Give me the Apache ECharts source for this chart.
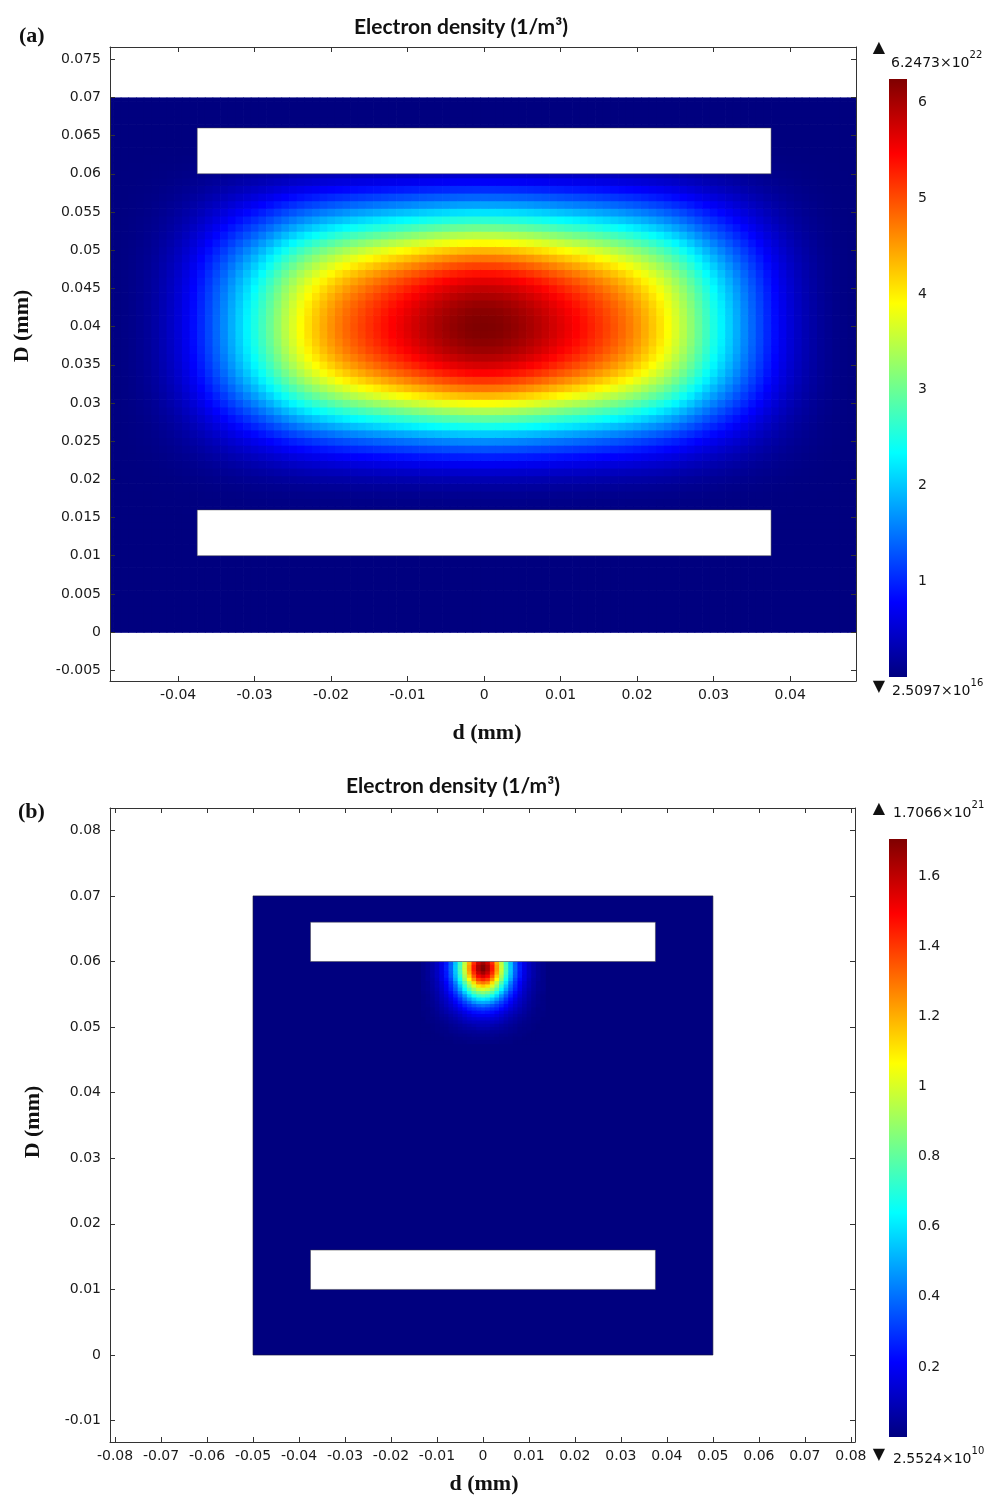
<!DOCTYPE html>
<html><head><meta charset="utf-8">
<script src="https://cdn.jsdelivr.net/npm/echarts@6/dist/echarts.min.js"></script>
<style>html,body{margin:0;padding:0;background:#fff}#c{width:990px;height:1497px}</style>
</head><body><div id="c"></div>
<script>
// ================= DATA =================
const titleText = 'Electron density (1/m³)';
const panelLabels = ['(a)', '(b)'];
const axisNames = ['d (mm)', 'D (mm)'];

const xTicksA = [-0.04, -0.03, -0.02, -0.01, 0, 0.01, 0.02, 0.03, 0.04];
const yTicksA = [-0.005, 0, 0.005, 0.01, 0.015, 0.02, 0.025, 0.03, 0.035, 0.04, 0.045, 0.05, 0.055, 0.06, 0.065, 0.07, 0.075];
const xTicksB = [-0.08, -0.07, -0.06, -0.05, -0.04, -0.03, -0.02, -0.01, 0, 0.01, 0.02, 0.03, 0.04, 0.05, 0.06, 0.07, 0.08];
const yTicksB = [-0.01, 0, 0.01, 0.02, 0.03, 0.04, 0.05, 0.06, 0.07, 0.08];

// colour bars (values in units of 1e22 for (a), 1e21 for (b))
const cbTicksA = [1, 2, 3, 4, 5, 6];
const cbTicksB = [0.2, 0.4, 0.6, 0.8, 1, 1.2, 1.4, 1.6];
const cbMaxA = 6.2473, cbMaxB = 1.7066;
const cbEndLabelsA = [['6.2473×10', '22'], ['2.5097×10', '16']];
const cbEndLabelsB = [['1.7066×10', '21'], ['2.5524×10', '10']];

// geometry (mm): simulation domain and two electrodes [x0, x1, y0, y1]
const domain = [-0.05, 0.05, 0, 0.07];
const electrodes = [[-0.0375, 0.0375, 0.06, 0.066], [-0.0375, 0.0375, 0.01, 0.016]];

// (a) density read along D = 0.04 for d = -0.05 .. 0.05 (step 0.001), 1e22 m^-3
const xLineA = [
  0.00, 0.01, 0.02, 0.04, 0.07, 0.11, 0.16, 0.23, 0.32, 0.42, 0.54, 0.68, 0.84, 1.02, 1.22, 1.42, 1.63, 1.85, 2.07, 2.29,
  2.51, 2.74, 2.98, 3.23, 3.47, 3.69, 3.90, 4.09, 4.26, 4.42, 4.57, 4.71, 4.84, 4.96, 5.07, 5.18, 5.28, 5.38, 5.48, 5.57,
  5.66, 5.75, 5.84, 5.92, 6.00, 6.07, 6.13, 6.18, 6.22, 6.24,
  6.2473,
  6.24, 6.22, 6.18, 6.13, 6.07, 6.00, 5.92, 5.84, 5.75, 5.66, 5.57, 5.48, 5.38, 5.28, 5.18, 5.07, 4.96, 4.84, 4.71, 4.57,
  4.42, 4.26, 4.09, 3.90, 3.69, 3.47, 3.23, 2.98, 2.74, 2.51, 2.29, 2.07, 1.85, 1.63, 1.42, 1.22, 1.02, 0.84, 0.68, 0.54,
  0.42, 0.32, 0.23, 0.16, 0.11, 0.07, 0.04, 0.02, 0.01, 0.00
];
// (a) density read along d = 0 for D = 0 .. 0.07 (step 0.001), 1e22 m^-3
const yLineA = [
  0, 0, 0, 0, 0, 0, 0, 0, 0, 0, 0, 0, 0, 0, 0.01, 0.02, 0.03, 0.06, 0.11, 0.19,
  0.31, 0.48, 0.70, 0.96, 1.27, 1.62, 2.02, 2.46, 2.92, 3.40, 3.88, 4.34, 4.76, 5.14, 5.46, 5.72, 5.92, 6.07, 6.17, 6.23,
  6.2473, 6.23, 6.18, 6.10, 5.98, 5.83, 5.63, 5.38, 5.08, 4.74, 4.36, 3.93, 3.48, 3.03, 2.60, 2.18, 1.78, 1.40, 1.05, 0.75,
  0.50, 0.30, 0.16, 0.08, 0.03, 0.01, 0, 0, 0, 0, 0
];

// (b) density patch below the upper electrode, 1e21 m^-3
// columns d = -0.013 .. 0.013 (step 0.001); rows D = 0.05975 down to 0.04775 (step 0.0005)
const blobRowsB = [
  [0.02,0.04,0.07,0.11,0.17,0.25,0.37,0.54,0.74,0.96,1.20,1.42,1.58,1.65,1.58,1.42,1.20,0.96,0.74,0.54,0.37,0.25,0.17,0.11,0.07,0.04,0.02],
  [0.02,0.04,0.07,0.11,0.17,0.26,0.38,0.55,0.76,0.98,1.23,1.46,1.63,1.70,1.63,1.46,1.23,0.98,0.76,0.55,0.38,0.26,0.17,0.11,0.07,0.04,0.02],
  [0.02,0.04,0.07,0.11,0.17,0.26,0.38,0.55,0.76,0.98,1.23,1.46,1.63,1.7066,1.63,1.46,1.23,0.98,0.76,0.55,0.38,0.26,0.17,0.11,0.07,0.04,0.02],
  [0.02,0.04,0.07,0.11,0.17,0.25,0.37,0.54,0.74,0.96,1.20,1.42,1.58,1.65,1.58,1.42,1.20,0.96,0.74,0.54,0.37,0.25,0.17,0.11,0.07,0.04,0.02],
  [0.02,0.04,0.07,0.11,0.16,0.25,0.36,0.52,0.70,0.92,1.14,1.35,1.50,1.56,1.50,1.35,1.14,0.92,0.70,0.52,0.36,0.25,0.16,0.11,0.07,0.04,0.02],
  [0.02,0.04,0.06,0.10,0.16,0.23,0.33,0.49,0.66,0.87,1.06,1.25,1.39,1.44,1.39,1.25,1.06,0.87,0.66,0.49,0.33,0.23,0.16,0.10,0.06,0.04,0.02],
  [0.02,0.03,0.06,0.09,0.14,0.21,0.30,0.43,0.60,0.78,0.95,1.12,1.26,1.30,1.26,1.12,0.95,0.78,0.60,0.43,0.30,0.21,0.14,0.09,0.06,0.03,0.02],
  [0.02,0.03,0.055,0.09,0.13,0.19,0.28,0.39,0.54,0.70,0.87,1.00,1.11,1.15,1.11,1.00,0.87,0.70,0.54,0.39,0.28,0.19,0.13,0.09,0.055,0.03,0.02],
  [0.02,0.03,0.05,0.08,0.12,0.18,0.26,0.36,0.49,0.63,0.77,0.89,0.97,1.00,0.97,0.89,0.77,0.63,0.49,0.36,0.26,0.18,0.12,0.08,0.05,0.03,0.02],
  [0.015,0.025,0.045,0.07,0.11,0.16,0.23,0.31,0.42,0.55,0.67,0.78,0.84,0.87,0.84,0.78,0.67,0.55,0.42,0.31,0.23,0.16,0.11,0.07,0.045,0.025,0.015],
  [0.01,0.02,0.04,0.065,0.10,0.14,0.20,0.27,0.36,0.46,0.57,0.66,0.72,0.74,0.72,0.66,0.57,0.46,0.36,0.27,0.20,0.14,0.10,0.065,0.04,0.02,0.01],
  [0.01,0.02,0.035,0.06,0.09,0.12,0.17,0.23,0.30,0.39,0.47,0.54,0.59,0.61,0.59,0.54,0.47,0.39,0.30,0.23,0.17,0.12,0.09,0.06,0.035,0.02,0.01],
  [0.01,0.02,0.03,0.05,0.08,0.11,0.15,0.20,0.26,0.32,0.38,0.45,0.49,0.50,0.49,0.45,0.38,0.32,0.26,0.20,0.15,0.11,0.08,0.05,0.03,0.02,0.01],
  [0.01,0.015,0.03,0.045,0.07,0.10,0.13,0.17,0.22,0.27,0.31,0.35,0.38,0.40,0.38,0.35,0.31,0.27,0.22,0.17,0.13,0.10,0.07,0.045,0.03,0.015,0.01],
  [0.01,0.01,0.02,0.04,0.06,0.08,0.11,0.14,0.18,0.22,0.26,0.28,0.30,0.31,0.30,0.28,0.26,0.22,0.18,0.14,0.11,0.08,0.06,0.04,0.02,0.01,0.01],
  [0.005,0.01,0.02,0.03,0.05,0.07,0.09,0.11,0.14,0.17,0.20,0.23,0.24,0.25,0.24,0.23,0.20,0.17,0.14,0.11,0.09,0.07,0.05,0.03,0.02,0.01,0.005],
  [0.005,0.01,0.015,0.025,0.04,0.05,0.07,0.09,0.11,0.14,0.16,0.18,0.19,0.19,0.19,0.18,0.16,0.14,0.11,0.09,0.07,0.05,0.04,0.025,0.015,0.01,0.005],
  [0.00,0.01,0.01,0.02,0.03,0.04,0.055,0.07,0.09,0.11,0.13,0.14,0.15,0.15,0.15,0.14,0.13,0.11,0.09,0.07,0.055,0.04,0.03,0.02,0.01,0.01,0.00],
  [0.00,0.005,0.01,0.015,0.02,0.03,0.045,0.055,0.07,0.09,0.10,0.11,0.11,0.11,0.11,0.11,0.10,0.09,0.07,0.055,0.045,0.03,0.02,0.015,0.01,0.005,0.00],
  [0,0,0.005,0.01,0.015,0.02,0.03,0.04,0.05,0.06,0.07,0.08,0.09,0.09,0.09,0.08,0.07,0.06,0.05,0.04,0.03,0.02,0.015,0.01,0.005,0,0],
  [0,0,0.005,0.01,0.01,0.015,0.025,0.03,0.04,0.05,0.055,0.06,0.07,0.07,0.07,0.06,0.055,0.05,0.04,0.03,0.025,0.015,0.01,0.01,0.005,0,0],
  [0,0,0,0.005,0.01,0.01,0.02,0.025,0.03,0.035,0.04,0.04,0.045,0.045,0.045,0.04,0.04,0.035,0.03,0.025,0.02,0.01,0.01,0.005,0,0,0],
  [0,0,0,0,0.005,0.01,0.01,0.015,0.02,0.02,0.025,0.03,0.03,0.03,0.03,0.03,0.025,0.02,0.02,0.015,0.01,0.01,0.005,0,0,0,0],
  [0,0,0,0,0,0.005,0.005,0.01,0.01,0.015,0.015,0.02,0.02,0.02,0.02,0.02,0.015,0.015,0.01,0.01,0.005,0.005,0,0,0,0,0],
  [0,0,0,0,0,0,0,0.005,0.005,0.005,0.01,0.01,0.01,0.01,0.01,0.01,0.01,0.005,0.005,0.005,0,0,0,0,0,0,0]
];
const blobX0 = -0.013, blobYTop = 0.05975, blobStepX = 0.001, blobStepY = 0.0005;

// ================= BUILD =================
const jet = ['#00007F', '#0000FF', '#007FFF', '#00FFFF', '#7FFF7F', '#FFFF00', '#FF7F00', '#FF0000', '#7F0000'];
const stepA = 0.001;
const fieldA = [];
for (let i = 0; i < xLineA.length; i++) {
  for (let j = 0; j < yLineA.length; j++) {
    const x = +(domain[0] + i * stepA).toFixed(4);
    const y = +(domain[2] + j * stepA).toFixed(4);
    fieldA.push([x, y, xLineA[i] * yLineA[j] / cbMaxA]);
  }
}
const fieldB = [];
blobRowsB.forEach((row, r) => {
  row.forEach((v, c) => {
    fieldB.push([+(blobX0 + c * blobStepX).toFixed(5), +(blobYTop - r * blobStepY).toFixed(5), v]);
  });
});

const chart = echarts.init(document.getElementById('c'), null, {renderer: 'canvas'});
const fmt = v => String(+(+v).toFixed(4));
const AX = '#333';
const LBL = '#1a1a1a';
const tickFont = '"DejaVu Sans"';

function cellRenderer(hx, hy) {
  return function (params, api) {
    const x = api.value(0), y = api.value(1);
    const p0 = api.coord([Math.max(x - hx, domain[0]), Math.min(y + hy, domain[3])]);
    const p1 = api.coord([Math.min(x + hx, domain[1]), Math.max(y - hy, domain[2])]);
    const cs = params.coordSys;
    let r = {x: p0[0], y: p0[1], width: p1[0] - p0[0] + 0.7, height: p1[1] - p0[1] + 0.7};
    r = echarts.graphic.clipRectByRect(r, {x: cs.x, y: cs.y, width: cs.width, height: cs.height});
    if (!r) return;
    return {type: 'rect', shape: r, style: {fill: api.visual('color')}};
  };
}
function rectRenderer(fill, stroke, lw) {
  return function (params, api) {
    const p0 = api.coord([api.value(0), api.value(3)]);
    const p1 = api.coord([api.value(1), api.value(2)]);
    const cs = params.coordSys;
    const r = echarts.graphic.clipRectByRect({x: p0[0], y: p0[1], width: p1[0] - p0[0], height: p1[1] - p0[1]},
      {x: cs.x, y: cs.y, width: cs.width, height: cs.height});
    if (!r) return;
    return {type: 'rect', shape: r, style: {fill: fill, stroke: stroke, lineWidth: lw}};
  };
}
function cbRenderer(params, api) {
  const p0 = api.coord([0, api.value(1)]);
  const p1 = api.coord([1, api.value(0)]);
  return {
    type: 'rect', shape: {x: p0[0], y: p0[1], width: p1[0] - p0[0], height: p1[1] - p0[1]},
    style: {fill: new echarts.graphic.LinearGradient(0, 1, 0, 0, jet.map((c, k) => ({offset: k / (jet.length - 1), color: c})))}
  };
}

function xAx(grid, min, max, ticks, pos, labels) {
  return {
    gridIndex: grid, type: 'value', min: min, max: max, position: pos, z: 10,
    axisLine: {show: true, onZero: false, lineStyle: {color: AX, width: 1}},
    axisTick: {show: true, inside: true, length: 5, customValues: ticks, lineStyle: {color: AX}},
    axisLabel: {show: labels, customValues: ticks, formatter: fmt, margin: 7, fontSize: 14, color: LBL, fontFamily: tickFont},
    splitLine: {show: false}
  };
}
function yAx(grid, min, max, ticks, pos, labels) {
  return {
    gridIndex: grid, type: 'value', min: min, max: max, position: pos, z: 10,
    axisLine: {show: true, onZero: false, lineStyle: {color: AX, width: 1}},
    axisTick: {show: true, inside: true, length: 5, customValues: ticks, lineStyle: {color: AX}},
    axisLabel: {show: labels, customValues: ticks, formatter: fmt, margin: 9, fontSize: 14, color: LBL, fontFamily: tickFont},
    splitLine: {show: false}
  };
}
function cbX(grid) { return {gridIndex: grid, type: 'value', min: 0, max: 1, show: false}; }
function cbY(grid, max, ticks) {
  return {
    gridIndex: grid, type: 'value', min: 0, max: max, position: 'right',
    axisLine: {show: false}, axisTick: {show: false}, splitLine: {show: false},
    axisLabel: {customValues: ticks, formatter: fmt, margin: 11, fontSize: 14, color: LBL, fontFamily: tickFont}
  };
}

const serif = '"Liberation Serif", "Times New Roman", serif';
function txt(x, y, text, font, size, weight, align, rot) {
  return {type: 'text', x: x, y: y, rotation: rot || 0,
    style: {text: text, fontFamily: font, fontSize: size, fontWeight: weight, fill: '#111', align: align, verticalAlign: 'middle'}};
}
function supTxt(x, y, parts) {
  return {type: 'text', x: x, y: y,
    style: {text: '{n|' + parts[0] + '}{s|' + parts[1] + '}', align: 'left', verticalAlign: 'middle',
      rich: {
        n: {fontFamily: tickFont, fontSize: 14, lineHeight: 20, fill: '#111', verticalAlign: 'bottom'},
        s: {fontFamily: tickFont, fontSize: 10, lineHeight: 10, fill: '#111', verticalAlign: 'top'}
      }}};
}

const option = {
  animation: false,
  backgroundColor: '#fff',
  grid: [
    {left: 110, top: 47, width: 746, height: 634},
    {left: 889, top: 79, width: 18, height: 598},
    {left: 110, top: 808, width: 745, height: 634},
    {left: 889, top: 839, width: 18, height: 598}
  ],
  xAxis: [
    xAx(0, -0.0489, 0.0486, xTicksA, 'bottom', true),
    xAx(0, -0.0489, 0.0486, xTicksA, 'top', false),
    cbX(1),
    xAx(2, -0.0811, 0.0809, xTicksB, 'bottom', true),
    xAx(2, -0.0811, 0.0809, xTicksB, 'top', false),
    cbX(3)
  ],
  yAxis: [
    yAx(0, -0.0064, 0.0766, yTicksA, 'left', true),
    yAx(0, -0.0064, 0.0766, yTicksA, 'right', false),
    cbY(1, cbMaxA, cbTicksA),
    yAx(2, -0.01326, 0.0834, yTicksB, 'left', true),
    yAx(2, -0.01326, 0.0834, yTicksB, 'right', false),
    cbY(3, cbMaxB, cbTicksB)
  ],
  visualMap: [
    {type: 'continuous', show: false, seriesIndex: 0, dimension: 2, min: 0, max: cbMaxA, inRange: {color: jet}},
    {type: 'continuous', show: false, seriesIndex: 4, dimension: 2, min: 0, max: cbMaxB, inRange: {color: jet}}
  ],
  series: [
    {type: 'custom', name: 'density (a)', xAxisIndex: 0, yAxisIndex: 0, data: fieldA, encode: {x: 0, y: 1}, renderItem: cellRenderer(stepA / 2, stepA / 2), progressive: 0, silent: true},
    {type: 'custom', name: 'electrodes (a)', xAxisIndex: 0, yAxisIndex: 0, data: electrodes, encode: {x: [0, 1], y: [2, 3]}, renderItem: rectRenderer('#fff', 'rgba(70,70,70,0.7)', 0.7), silent: true},
    {type: 'custom', name: 'colour bar (a)', xAxisIndex: 2, yAxisIndex: 2, data: [[0, cbMaxA]], encode: {y: [0, 1]}, renderItem: cbRenderer, silent: true},
    {type: 'custom', name: 'domain (b)', xAxisIndex: 3, yAxisIndex: 3, data: [domain], encode: {x: [0, 1], y: [2, 3]}, renderItem: rectRenderer(jet[0], 'rgba(20,20,60,0.8)', 0.8), silent: true},
    {type: 'custom', name: 'density (b)', xAxisIndex: 3, yAxisIndex: 3, data: fieldB, encode: {x: 0, y: 1}, renderItem: cellRenderer(blobStepX / 2, blobStepY / 2), progressive: 0, silent: true},
    {type: 'custom', name: 'electrodes (b)', xAxisIndex: 3, yAxisIndex: 3, data: electrodes, encode: {x: [0, 1], y: [2, 3]}, renderItem: rectRenderer('#fff', 'rgba(70,70,70,0.7)', 0.7), silent: true},
    {type: 'custom', name: 'colour bar (b)', xAxisIndex: 5, yAxisIndex: 5, data: [[0, cbMaxB]], encode: {y: [0, 1]}, renderItem: cbRenderer, silent: true}
  ],
  graphic: [
    txt(461, 27, titleText, 'Lato', 21, 'bold', 'center'),
    txt(453, 786, titleText, 'Lato', 21, 'bold', 'center'),
    txt(19, 36, panelLabels[0], serif, 22, 'bold', 'left'),
    txt(18, 812, panelLabels[1], serif, 22, 'bold', 'left'),
    txt(487, 733, axisNames[0], serif, 22, 'bold', 'center'),
    txt(484, 1484, axisNames[0], serif, 22, 'bold', 'center'),
    txt(22, 326, axisNames[1], serif, 22, 'bold', 'center', Math.PI / 2),
    txt(33, 1122, axisNames[1], serif, 22, 'bold', 'center', Math.PI / 2),
    txt(879, 48, '▲', tickFont, 16, 'normal', 'center'),
    supTxt(891, 60, cbEndLabelsA[0]),
    txt(879, 687, '▼', tickFont, 16, 'normal', 'center'),
    supTxt(892, 688, cbEndLabelsA[1]),
    txt(879, 809, '▲', tickFont, 16, 'normal', 'center'),
    supTxt(893, 810, cbEndLabelsB[0]),
    txt(879, 1455, '▼', tickFont, 16, 'normal', 'center'),
    supTxt(893, 1456, cbEndLabelsB[1])
  ]
};
chart.setOption(option);
</script>
</body></html>
